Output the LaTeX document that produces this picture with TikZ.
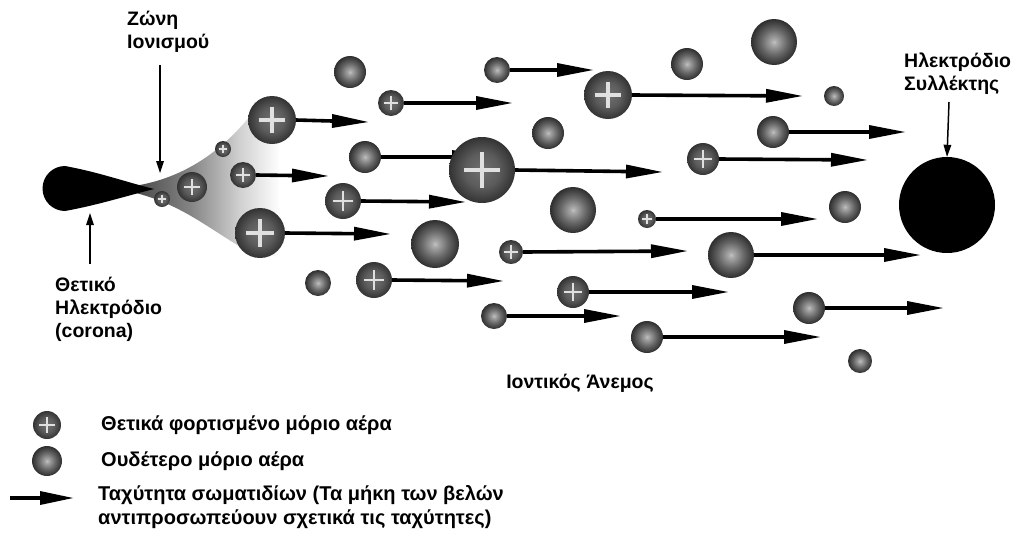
\documentclass[tikz,border=0pt]{standalone}
\usepackage{fontspec}
\setmainfont{Liberation Sans}
\usetikzlibrary{arrows.meta,calc}

% shaded balls (the ball's rim sits at 25bp of the shading):
% neutral molecules have a bright core, ions are darker and flatter
\pgfdeclareradialshading{neutralball}{\pgfpoint{0bp}{0bp}}{color(0bp)=(black!24); color(3bp)=(black!34); color(14bp)=(black!60); color(25bp)=(black!82); color(50bp)=(black!82)}
\pgfdeclareradialshading{ionball}{\pgfpoint{0bp}{0bp}}{color(0bp)=(black!56); color(13bp)=(black!64); color(25bp)=(black!80); color(50bp)=(black!80)}
% ionisation plume: dark at the electrode tip, fading to white (path spans 25bp..75bp)
\pgfdeclarehorizontalshading{plumeshade}{100bp}{color(0bp)=(black!72); color(25bp)=(black!72); color(42bp)=(black!48); color(57bp)=(black!18); color(69bp)=(white); color(100bp)=(white)}

\pgfdeclarelayer{plume}
\pgfdeclarelayer{vectors}
\pgfsetlayers{plume,vectors,main}

\tikzset{
  molecule/.style={circle, inner sep=0pt, outer sep=0pt, draw=none, shading=neutralball},
  ionmol/.style={circle, inner sep=0pt, outer sep=0pt, draw=none, shading=ionball},
  plusmark/.style={draw=white!88!black, line cap=butt},
  vel/.style={line width=3.6pt, -{Triangle[length=36pt,width=14pt,line width=0pt]}},
  legvel/.style={line width=3.6pt, -{Triangle[length=33pt,width=14pt,line width=0pt]}},
  pointer/.style={line width=1.5pt, -{Triangle[length=12pt,width=8pt,line width=0pt]}},
  lbl/.style={font=\fontsize{19.5}{23}\selectfont\bfseries, inner sep=0pt, align=left},
}

% positive ion: name, x, y, radius
\newcommand\PosIon[4]{%
  \node[ionmol, minimum size={2*#4}] (#1) at (#2,#3) {};
  \draw[plusmark, line width={max(0.14*#4,1.4)}]
    ($(#1.center)+({-0.55*#4},0)$) -- ($(#1.center)+({0.55*#4},0)$)
    ($(#1.center)+(0,{-0.55*#4})$) -- ($(#1.center)+(0,{0.55*#4})$);}
% neutral molecule: name, x, y, radius
\newcommand\NeuMol[4]{%
  \node[molecule, minimum size={2*#4}] (#1) at (#2,#3) {};}

\begin{document}
\begin{tikzpicture}[x=1pt,y=-1pt]
\useasboundingbox (0,0) rectangle (1016,536);

% ionisation plume and corona electrode
\begin{pgfonlayer}{plume}
  \shade[shading=plumeshade]
    (134,186) .. controls (185,178) and (225,150) .. (258,106) -- (300,100)
    -- (300,262) -- (244,249) .. controls (208,228) and (182,205) .. (136,193) -- cycle;
  \fill[black] (65,166) .. controls (98,172) and (126,182) .. (154,189)
    .. controls (126,196) and (98,205) .. (65,211)
    arc[start angle=90, end angle=270, radius=22.5];
\end{pgfonlayer}

% collector electrode
\node[circle, fill=black, inner sep=0pt, minimum size=96pt] (coll) at (947,205) {};

% neutral air molecules
\NeuMol{n1}{350}{72}{16}
\NeuMol{n2}{365}{157}{16}
\NeuMol{n3}{497}{70}{13}
\NeuMol{n4}{548}{133}{16}
\NeuMol{n5}{573}{210}{23}
\NeuMol{n6}{435}{244}{24}
\NeuMol{n7}{318}{283}{13}
\NeuMol{n8}{494}{316}{13}
\NeuMol{n9}{687}{64}{16}
\NeuMol{n10}{774}{42}{23}
\NeuMol{n11}{834}{96}{10}
\NeuMol{n12}{773}{132}{16}
\NeuMol{n13}{845}{207}{16}
\NeuMol{n14}{731}{255}{23}
\NeuMol{n15}{809}{308}{16}
\NeuMol{n16}{647}{337}{16}
\NeuMol{n17}{860}{361}{12}

% positive ions
\PosIon{c1}{162}{199}{8}
\PosIon{c2}{192}{187}{15}
\PosIon{c3}{223}{149}{8}
\PosIon{c4}{243}{175}{13}
\PosIon{c5}{272}{120}{24}
\PosIon{c6}{260}{233}{25}
\PosIon{c7}{343}{201}{18}
\PosIon{c8}{374}{280}{18}
\PosIon{c9}{391}{103}{13}
\PosIon{c10}{482}{170}{33}
\PosIon{c11}{511}{252}{12}
\PosIon{c12}{573}{292}{16}
\PosIon{c13}{608}{95}{24}
\PosIon{c14}{703}{159}{16}
\PosIon{c15}{647}{219}{9}

% arrow tips (velocity vectors)
\coordinate (t4) at (328,176);
\coordinate (t5) at (368,122);
\coordinate (t6) at (390,234);
\coordinate (t7) at (465,202);
\coordinate (t8) at (503,281);
\coordinate (t9) at (512,103);
\coordinate (t10) at (662,172);
\coordinate (t11) at (687,251);
\coordinate (t12) at (728,292);
\coordinate (t13) at (802,96);
\coordinate (t14) at (867,160);
\coordinate (t15) at (817,219);
\coordinate (tn2) at (488,157);
\coordinate (tn3) at (593,70);
\coordinate (tn8) at (620,316);
\coordinate (tn12) at (905,132);
\coordinate (tn14) at (920,255);
\coordinate (tn15) at (943,308);
\coordinate (tn16) at (820,337);

\begin{pgfonlayer}{vectors}
  \draw[vel] (c4.east) -- (t4);
  \draw[vel] (c5.east) -- (t5);
  \draw[vel] (c6.east) -- (t6);
  \draw[vel] (c7.east) -- (t7);
  \draw[vel] (c8.east) -- (t8);
  \draw[vel] (c9.east) -- (t9);
  \draw[vel] (c10.east) -- (t10);
  \draw[vel] (c11.east) -- (t11);
  \draw[vel] (c12.east) -- (t12);
  \draw[vel] (c13.east) -- (t13);
  \draw[vel] (c14.east) -- (t14);
  \draw[vel] (c15.east) -- (t15);
  \draw[vel] (n2.east) -- (tn2);
  \draw[vel] (n3.east) -- (tn3);
  \draw[vel] (n8.east) -- (tn8);
  \draw[vel] (n12.east) -- (tn12);
  \draw[vel] (n14.east) -- (tn14);
  \draw[vel] (n15.east) -- (tn15);
  \draw[vel] (n16.east) -- (tn16);
\end{pgfonlayer}

% labels with pointers
\node[lbl, anchor=north west] (zone) at (127,11) {Ζώνη\\Ιονισμού};
\coordinate (zs) at (160,65);
\coordinate (zt) at (160,173);
\draw[pointer] (zs) -- (zt);

\node[lbl, anchor=north west] (corona) at (55,277) {Θετικό\\Ηλεκτρόδιο\\(corona)};
\coordinate (cs) at (90,264);
\coordinate (ct) at (90,213);
\draw[pointer] (cs) -- (ct);

\node[lbl, anchor=north west] (colllbl) at (904,53) {Ηλεκτρόδιο\\Συλλέκτης};
\coordinate (ks) at (949,102);
\draw[pointer] (ks) -- (coll.north);

\node[lbl] (wind) at (580,383) {Ιοντικός Άνεμος};

% legend
\PosIon{lion}{47}{425}{14}
\NeuMol{lneu}{47}{461}{15}
\coordinate (la0) at (10,498);
\coordinate (la1) at (73,498);
\draw[legvel] (la0) -- (la1);
\node[lbl, anchor=west, font=\fontsize{20}{24}\selectfont\bfseries] (legion) at (101,425) {Θετικά φορτισμένο μόριο αέρα};
\node[lbl, anchor=west, font=\fontsize{20}{24}\selectfont\bfseries] (legneu) at (101,461) {Ουδέτερο μόριο αέρα};
\node[lbl, anchor=north west, font=\fontsize{20}{24}\selectfont\bfseries] (legvel) at (98,485) {Ταχύτητα σωματιδίων (Τα μήκη των βελών\\αντιπροσωπεύουν σχετικά τις ταχύτητες)};
\end{tikzpicture}
\end{document}
